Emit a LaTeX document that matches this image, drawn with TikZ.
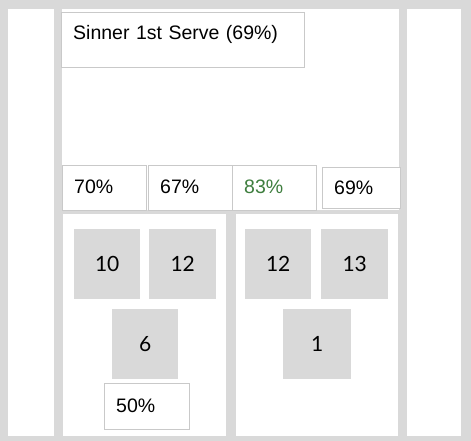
\documentclass[tikz,border=0pt]{standalone}
\usepackage{fontspec}
\setmainfont{Liberation Sans}
\newfontfamily\numfont{Lato}

\definecolor{courtgray}{HTML}{D9D9D9}
\definecolor{boxline}{HTML}{C9C9C9}
\definecolor{wingreen}{HTML}{3E7E3E}

\tikzset{
  pctbox/.style={draw=boxline, fill=white, anchor=north west, minimum height=#1,
    inner xsep=12pt, inner ysep=0pt, align=left,
    font=\fontsize{19.5}{22}\selectfont},
  pctbox/.default=45pt,
  tally/.style={fill=courtgray, anchor=north west, inner sep=0pt,
    minimum width=66pt, minimum height=70pt,
    font=\numfont\fontsize{21}{24}\selectfont}
}

\begin{document}
\begin{tikzpicture}[x=1pt,y=-1pt]
	% Court lines
	\fill[courtgray] (0,0) rectangle (471,441);
	\fill[white] (8,9) rectangle (54,436);
	\fill[white] (62,9) rectangle (399,210);
	\fill[white] (63,214) rectangle (226,436);
	\fill[white] (236,214) rectangle (398,436);
	\fill[white] (407,9) rectangle (461,436);
	% Title
	\node[draw=boxline, fill=white, anchor=north west, inner xsep=12pt, inner ysep=0pt,
	  text width=219pt, text height=27pt, text depth=28pt, font=\fontsize{19.5}{22}\selectfont]
	  (title) at (61,12) {Sinner 1st Serve (69\%)};
	% Serve percentages
	\node[pctbox, text width=60pt] (p1) at (62,165) {\raisebox{2pt}{70\%}};
	\node[pctbox, text width=60pt] (p2) at (148,165) {\raisebox{2pt}{67\%}};
	\node[pctbox, text width=60pt, text=wingreen] (p3) at (232,165) {\raisebox{2pt}{83\%}};
	\node[pctbox=41pt, text width=54pt] (p4) at (322,167) {\raisebox{-1pt}{69\%}};
	% Deuce side
	\node[tally] (d1) at (74,229) {10};
	\node[tally, minimum width=67pt] (d2) at (149,229) {12};
	\node[tally] (d3) at (112,309) {6};
	\node[pctbox=46pt, text width=61pt] (d4) at (104,383) {\raisebox{2pt}{50\%}};
	% Ad side
	\node[tally] (a1) at (245,229) {12};
	\node[tally, minimum width=67pt] (a2) at (321,229) {13};
	\node[tally, minimum width=68pt] (a3) at (283,309) {1};
\end{tikzpicture}
\end{document}
